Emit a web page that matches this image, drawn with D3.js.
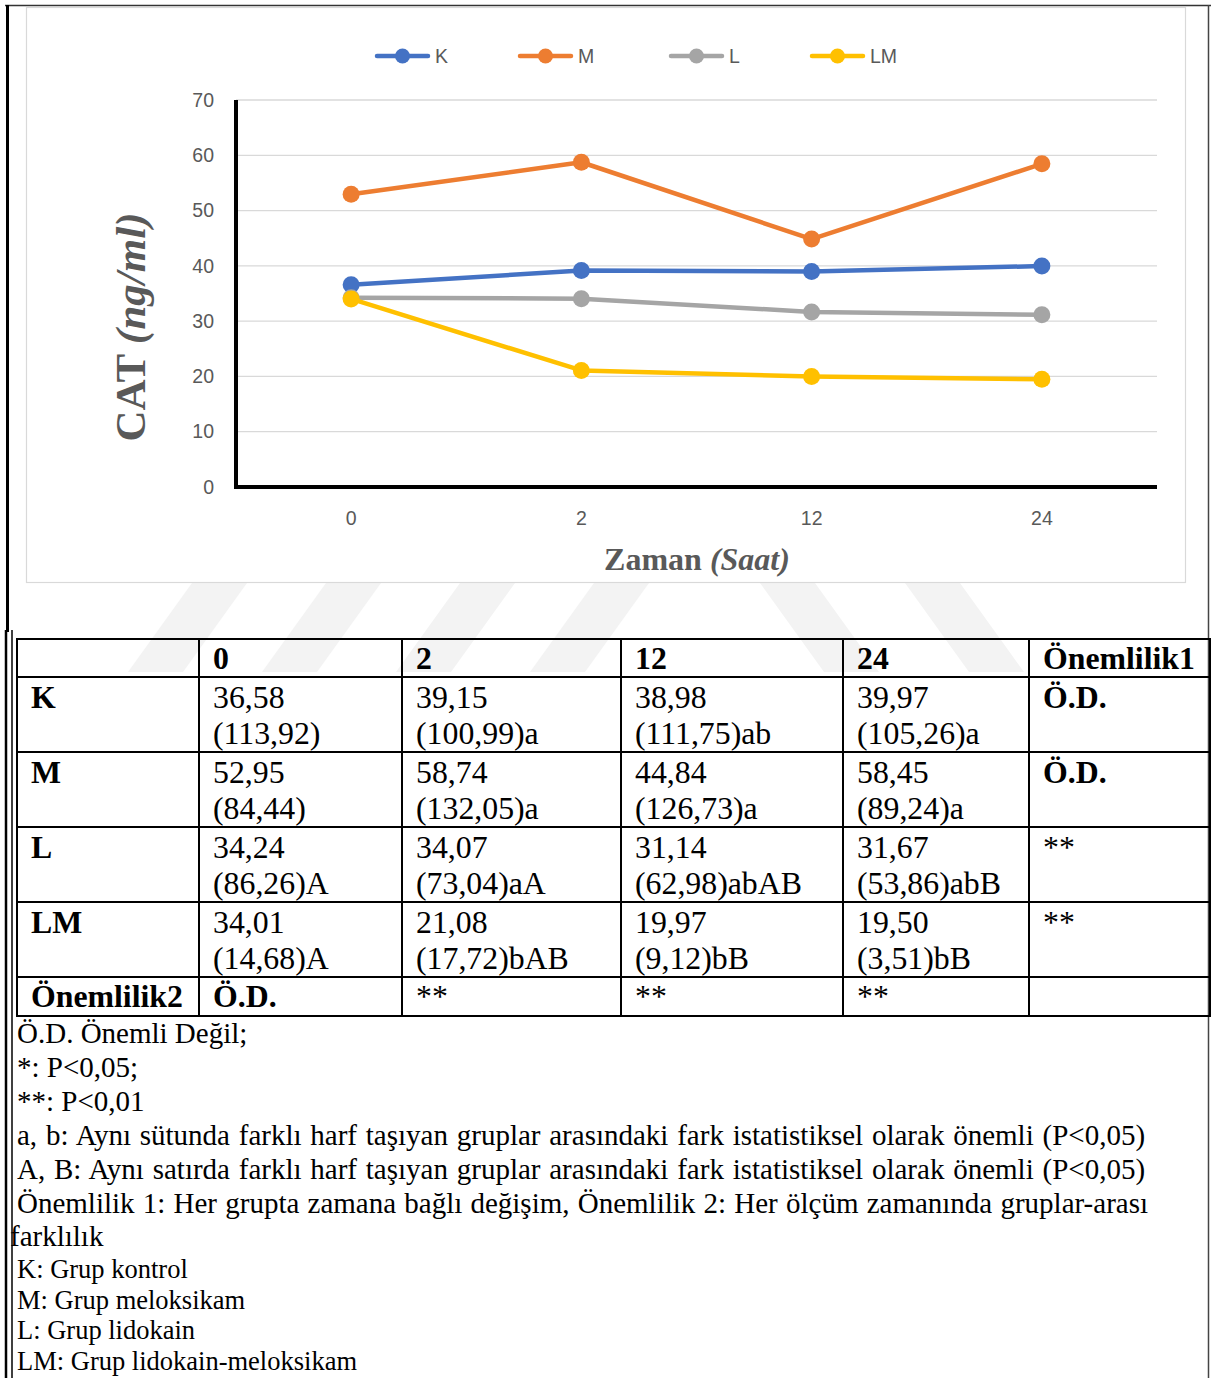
<!DOCTYPE html>
<html>
<head>
<meta charset="utf-8">
<script src="https://cdn.jsdelivr.net/npm/d3@7"></script>
<style>
  html, body { margin: 0; padding: 0; background: #fff; }
  svg { display: block; }
</style>
</head>
<body>
<div id="chart"></div>
<script>
// ---------- DATA ----------
const times = ["0", "2", "12", "24"];
const seriesNames = ["K", "M", "L", "LM"];
const seriesColors = ["#4472C4", "#ED7D31", "#A5A5A5", "#FFC000"];
const valuesK  = [36.58, 39.15, 38.98, 39.97];
const valuesM  = [52.95, 58.74, 44.84, 58.45];
const valuesL  = [34.24, 34.07, 31.67, 31.14];
const valuesLM = [34.01, 21.08, 19.97, 19.50];
const yTicks = [0, 10, 20, 30, 40, 50, 60, 70];

// table contents
const tableHeader = ["", "0", "2", "12", "24", "Önemlilik1"];
const rowLabels = ["K", "M", "L", "LM"];
const rowMeans = [
  ["36,58", "39,15", "38,98", "39,97"],
  ["52,95", "58,74", "44,84", "58,45"],
  ["34,24", "34,07", "31,14", "31,67"],
  ["34,01", "21,08", "19,97", "19,50"]
];
const rowSubs = [
  ["(113,92)", "(100,99)a", "(111,75)ab", "(105,26)a"],
  ["(84,44)", "(132,05)a", "(126,73)a", "(89,24)a"],
  ["(86,26)A", "(73,04)aA", "(62,98)abAB", "(53,86)abB"],
  ["(14,68)A", "(17,72)bAB", "(9,12)bB", "(3,51)bB"]
];
const rowSignif = ["Ö.D.", "Ö.D.", "**", "**"];
const lastRow = ["Önemlilik2", "Ö.D.", "**", "**", "**", ""];
const notes = [
  "Ö.D. Önemli Değil;",
  "*: P<0,05;",
  "**: P<0,01",
  "a, b: Aynı sütunda farklı harf taşıyan gruplar arasındaki fark istatistiksel olarak önemli (P<0,05)",
  "A, B: Aynı satırda farklı harf taşıyan gruplar arasındaki fark istatistiksel olarak önemli (P<0,05)",
  "Önemlilik 1: Her grupta zamana bağlı değişim, Önemlilik 2: Her ölçüm zamanında gruplar-arası",
  "farklılık",
  "K: Grup kontrol",
  "M: Grup meloksikam",
  "L: Grup lidokain",
  "LM: Grup lidokain-meloksikam"
];

const allSeries = [valuesK, valuesM, valuesL, valuesLM];

// ---------- LAYOUT ----------
const W = 1211, H = 1378;
const svg = d3.select("#chart").append("svg").attr("width", W).attr("height", H);

const sans = "'Liberation Sans', Arial, sans-serif";
const serif = "'Liberation Serif', 'Times New Roman', serif";
const axisGray = "#595959";

// watermark stripes (faint)
const wm = svg.append("g").attr("fill", "#f3f3f3");
const slashStarts = [128, 262, 396, 530];
slashStarts.forEach(x0 => {
  wm.append("path").attr("d", `M${x0},672 L${x0 + 64},583 L${x0 + 119},583 L${x0 + 55},672 Z`);
});
const backStarts = [760, 905];
backStarts.forEach(x0 => {
  wm.append("path").attr("d", `M${x0},583 L${x0 + 55},583 L${x0 + 119},672 L${x0 + 64},672 Z`);
});

// outer page frame
svg.append("line").attr("x1", 5).attr("x2", 1211).attr("y1", 5.5).attr("y2", 5.5).attr("stroke", "#333").attr("stroke-width", 1.5);
svg.append("line").attr("x1", 7.5).attr("x2", 7.5).attr("y1", 5).attr("y2", 632).attr("stroke", "#000").attr("stroke-width", 3);
svg.append("line").attr("x1", 6).attr("x2", 6).attr("y1", 630).attr("y2", H).attr("stroke", "#000").attr("stroke-width", 2.5);
svg.append("line").attr("x1", 12).attr("x2", 12).attr("y1", 630).attr("y2", H).attr("stroke", "#000").attr("stroke-width", 1.5);
svg.append("line").attr("x1", 1208.5).attr("x2", 1208.5).attr("y1", 5).attr("y2", H).attr("stroke", "#444").attr("stroke-width", 1.5);

// chart area box
svg.append("rect").attr("x", 26.5).attr("y", 7.5).attr("width", 1159).attr("height", 575)
  .attr("fill", "none").attr("stroke", "#d9d9d9").attr("stroke-width", 1.2);

// ---------- CHART ----------
const plot = { left: 236, right: 1157, top: 100, bottom: 487 };
const x = d3.scaleBand().domain(times).range([plot.left, plot.right]);
const y = d3.scaleLinear().domain([0, 70]).range([plot.bottom, plot.top]);
const cx = t => x(t) + x.bandwidth() / 2;

// gridlines
svg.append("g").selectAll("line").data(yTicks.filter(d => d > 0)).join("line")
  .attr("x1", plot.left).attr("x2", plot.right)
  .attr("y1", d => y(d)).attr("y2", d => y(d))
  .attr("stroke", "#d9d9d9").attr("stroke-width", 1.3);

// y axis labels
const yAxis = svg.append("g").attr("transform", `translate(${plot.left - 22},0)`)
  .call(d3.axisLeft(y).tickValues(yTicks).tickSize(0).tickPadding(0));
yAxis.select(".domain").remove();
yAxis.selectAll("text").attr("font-family", sans).attr("font-size", 19.5).attr("fill", axisGray);

// x axis labels
const xAxis = svg.append("g").attr("transform", `translate(0,${plot.bottom + 24})`)
  .call(d3.axisBottom(x).tickSize(0).tickPadding(0));
xAxis.select(".domain").remove();
xAxis.selectAll("text").attr("font-family", sans).attr("font-size", 19.5).attr("fill", axisGray);

// axis lines (thick black)
svg.append("line").attr("x1", plot.left).attr("x2", plot.left).attr("y1", plot.top).attr("y2", plot.bottom + 2)
  .attr("stroke", "#000").attr("stroke-width", 4);
svg.append("line").attr("x1", plot.left - 2).attr("x2", plot.right).attr("y1", plot.bottom).attr("y2", plot.bottom)
  .attr("stroke", "#000").attr("stroke-width", 4);

// series
const line = d3.line().x((d, i) => cx(times[i])).y(d => y(d));
allSeries.forEach((vals, si) => {
  const g = svg.append("g");
  g.append("path").datum(vals).attr("d", line).attr("fill", "none")
    .attr("stroke", seriesColors[si]).attr("stroke-width", 4.5).attr("stroke-linejoin", "round").attr("stroke-linecap", "round");
  g.selectAll("circle").data(vals).join("circle")
    .attr("cx", (d, i) => cx(times[i])).attr("cy", d => y(d)).attr("r", 8.5)
    .attr("fill", seriesColors[si]);
});

// legend
const legendX = [375, 518, 669, 810];
const lg = svg.append("g");
seriesNames.forEach((name, i) => {
  const g = lg.append("g").attr("transform", `translate(${legendX[i]},56)`);
  g.append("line").attr("x1", 2).attr("x2", 53).attr("y1", 0).attr("y2", 0)
    .attr("stroke", seriesColors[i]).attr("stroke-width", 4.5).attr("stroke-linecap", "round");
  g.append("circle").attr("cx", 27.5).attr("cy", 0).attr("r", 7.5).attr("fill", seriesColors[i]);
  g.append("text").attr("x", 60).attr("y", 7).attr("font-family", sans).attr("font-size", 19.5)
    .attr("fill", axisGray).text(name);
});

// axis titles
const yt = svg.append("text").attr("transform", "translate(145,327) rotate(-90)")
  .attr("text-anchor", "middle").attr("font-family", serif).attr("font-size", 43)
  .attr("font-weight", "bold").attr("fill", axisGray);
yt.append("tspan").text("CAT ");
yt.append("tspan").attr("font-style", "italic").text("(ng/ml)");

const xt = svg.append("text").attr("x", 697).attr("y", 570)
  .attr("text-anchor", "middle").attr("font-family", serif).attr("font-size", 32)
  .attr("font-weight", "bold").attr("fill", axisGray);
xt.append("tspan").text("Zaman ");
xt.append("tspan").attr("font-style", "italic").text("(Saat)");

// ---------- TABLE ----------
const colX = [17, 199, 402, 621, 843, 1029, 1210];
const rowY = [639, 677, 752, 827, 902, 977, 1016];
const tbl = svg.append("g");
const tfs = 31.8;
tableHeader.forEach((t, j) => {
  tbl.append("text").attr("x", colX[j] + 14).attr("y", rowY[0] + 30)
    .attr("font-family", serif).attr("font-size", tfs).attr("font-weight", "bold").attr("fill", "#000").text(t);
});
rowLabels.forEach((lab, i) => {
  const top = rowY[i + 1];
  tbl.append("text").attr("x", colX[0] + 14).attr("y", top + 31)
    .attr("font-family", serif).attr("font-size", tfs).attr("font-weight", "bold").text(lab);
  rowMeans[i].forEach((m, j) => {
    tbl.append("text").attr("x", colX[j + 1] + 14).attr("y", top + 31)
      .attr("font-family", serif).attr("font-size", tfs).text(m);
    tbl.append("text").attr("x", colX[j + 1] + 14).attr("y", top + 67)
      .attr("font-family", serif).attr("font-size", tfs).text(rowSubs[i][j]);
  });
  const s = rowSignif[i];
  tbl.append("text").attr("x", colX[5] + 14).attr("y", top + 31)
    .attr("font-family", serif).attr("font-size", tfs)
    .attr("font-weight", s === "**" ? "normal" : "bold").text(s);
});
lastRow.forEach((t, j) => {
  tbl.append("text").attr("x", colX[j] + 14).attr("y", rowY[5] + 30)
    .attr("font-family", serif).attr("font-size", tfs)
    .attr("font-weight", t === "**" ? "normal" : "bold").text(t);
});
rowY.forEach(yy => {
  tbl.append("line").attr("x1", colX[0]).attr("x2", colX[6]).attr("y1", yy).attr("y2", yy)
    .attr("stroke", "#000").attr("stroke-width", 2);
});
colX.forEach(xx => {
  tbl.append("line").attr("x1", xx).attr("x2", xx).attr("y1", rowY[0] - 1).attr("y2", rowY[6] + 1)
    .attr("stroke", "#000").attr("stroke-width", 2);
});

// ---------- NOTES ----------
const noteBase = [1043, 1077, 1111, 1145, 1179, 1213, 1246, 1278, 1309, 1339, 1370];
const noteSize = [29, 29, 29, 29, 29, 29, 29, 26.5, 26.5, 26.5, 26.5];
const noteEnd = [null, null, null, 1145, 1145, 1148, null, null, null, null, null];
notes.forEach((t, i) => {
  const tx = svg.append("text").attr("x", t === "farklılık" ? 10 : 17).attr("y", noteBase[i])
    .attr("font-family", serif).attr("font-size", noteSize[i]).attr("fill", "#000").text(t);
  if (noteEnd[i]) {
    const len = tx.node().getComputedTextLength();
    const spaces = (t.match(/ /g) || []).length;
    const extra = (noteEnd[i] - 17 - len) / spaces;
    if (extra > 0) tx.attr("word-spacing", extra.toFixed(2));
  }
});
</script>
</body>
</html>
